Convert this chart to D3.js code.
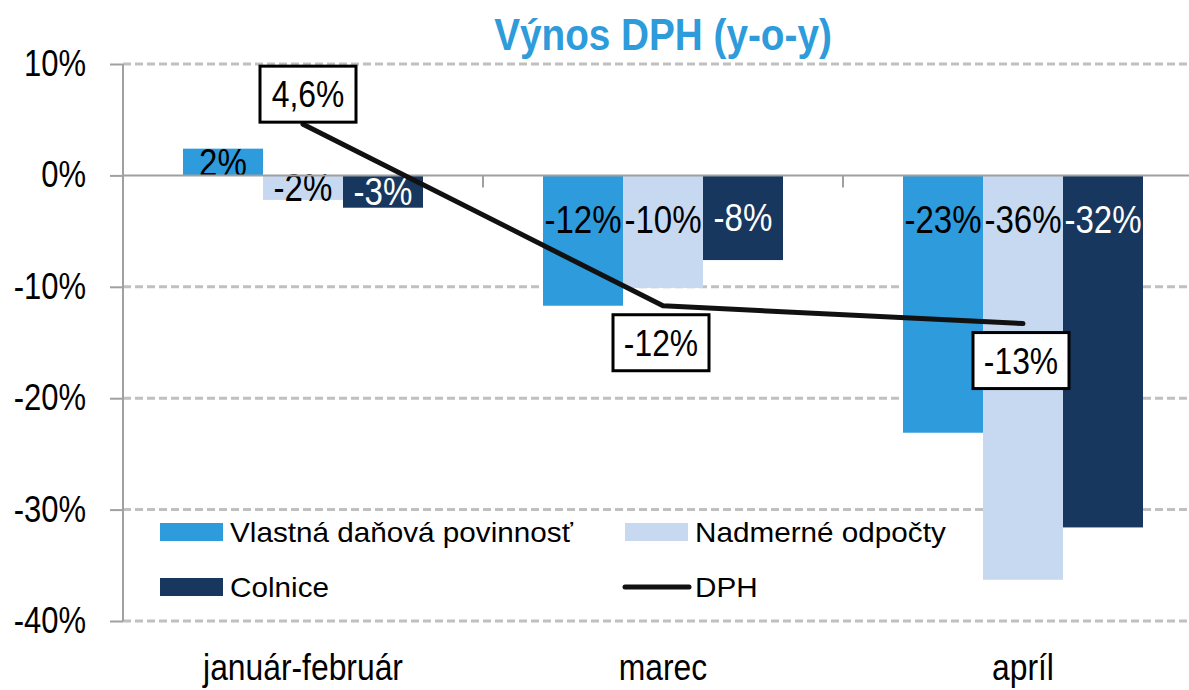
<!DOCTYPE html>
<meta charset="utf-8">
<style>
  html, body { margin: 0; padding: 0; background: #fff; overflow: hidden; }
  text {
    font-family: "Liberation Sans Narrow", "Arial Narrow", "Liberation Sans", sans-serif;
    fill: #000;
  }
  .grid line { stroke: #c0c0c0; stroke-width: 3px; stroke-dasharray: 8,4; }
  .axis path, .axis line { fill: none; stroke: #a0a0a0; stroke-width: 2px; }
  .axis text { font-size: 36px; fill: #000; }
  .title { font-size: 45px; font-weight: bold; fill: #2e9bdb; }
  .catlabel { font-size: 37px; }
  .barlabel { font-size: 38px; }
  .dphlabel { font-size: 37px; }
  .legend text { font-size: 28px; }
  .dph { fill: none; stroke: #111; stroke-width: 5px; stroke-linejoin: round; stroke-linecap: round; }
</style>
<body>
<svg></svg>
<script src="https://d3js.org/d3.v7.min.js"></script>
<script>

var categories = ["január-február", "marec", "apríl"];
var seriesNames = ["Vlastná daňová povinnosť", "Nadmerné odpočty", "Colnice"];
var vlastna = [2.4, -11.7, -23.1];
var nadmerne = [-2.2, -10.1, -36.3];
var colnice = [-2.9, -7.6, -31.6];
var dph = [4.6, -11.7, -13.3];
var dphLabels = ["4,6%", "-12%", "-13%"];
var yTicks = [10, 0, -10, -20, -30, -40];

var colors = ["#2e9bdc", "#c6d9f0", "#17375e"];
var labelColors = ["#000", "#000", "#fff"];

var width = 1189, height = 690;
var margin = {top: 64, left: 123, bottom: 69};

// no narrow font installed, so squeeze the glyphs to look like Arial Narrow
function condense(sel, k) {
  sel.each(function() {
    var w = this.getComputedTextLength();
    d3.select(this).attr("textLength", w * k).attr("lengthAdjust", "spacingAndGlyphs");
  });
}

var svg = d3.select("svg").attr("width", width).attr("height", height);

var x = d3.scaleBand()
    .domain(categories)
    .range([margin.left, margin.left + 360 * categories.length])
    .paddingInner(1 / 3)
    .paddingOuter(1 / 6);

var xSub = d3.scaleBand()
    .domain(seriesNames)
    .range([0, x.bandwidth()]);

var y = d3.scaleLinear()
    .domain([-40, 10])
    .range([height - margin.bottom, margin.top]);

var step = x.step();
var plotRight = margin.left + step * categories.length;

// gridlines
svg.append("g")
    .attr("class", "grid")
    .selectAll("line")
    .data(yTicks.filter(function(d) { return d !== 0; }))
    .enter().append("line")
      .attr("x1", margin.left)
      .attr("x2", plotRight)
      .attr("y1", function(d) { return y(d); })
      .attr("y2", function(d) { return y(d); });

// title
svg.append("text")
    .attr("class", "title")
    .attr("x", (margin.left + plotRight) / 2)
    .attr("y", 50)
    .attr("text-anchor", "middle")
    .text("Výnos DPH (y-o-y)")
    .call(condense, 0.86);

// bars
var series = [vlastna, nadmerne, colnice];
var barData = [];
categories.forEach(function(c, i) {
  series.forEach(function(s, j) {
    barData.push({cat: c, name: seriesNames[j], idx: j, value: s[i]});
  });
});

var bars = svg.append("g").attr("class", "bars");

bars.selectAll("rect")
    .data(barData)
    .enter().append("rect")
      .attr("x", function(d) { return x(d.cat) + xSub(d.name); })
      .attr("y", function(d) { return y(Math.max(0, d.value)); })
      .attr("width", xSub.bandwidth())
      .attr("height", function(d) { return Math.abs(y(d.value) - y(0)); })
      .style("fill", function(d) { return colors[d.idx]; });

// y axis
svg.append("g")
    .attr("class", "axis axis--y")
    .attr("transform", "translate(" + margin.left + ",0)")
    .call(d3.axisLeft(y).tickValues(yTicks).tickSize(13).tickPadding(24)
      .tickFormat(function(d) { return d + "%"; }))
    .call(function(g) { g.select(".domain").attr("d", "M0," + y(10) + "V" + y(-40)); })
    .call(function(g) { g.selectAll("text").attr("font-size", null).attr("font-family", null).call(condense, 0.86); });

// zero axis with category dividers
var xAxis = svg.append("g").attr("class", "axis axis--x");
xAxis.append("line")
    .attr("x1", margin.left).attr("x2", plotRight)
    .attr("y1", y(0)).attr("y2", y(0));
xAxis.selectAll(".divider")
    .data(categories.slice(1))
    .enter().append("line")
      .attr("class", "divider")
      .attr("x1", function(d) { return x(d) - step * x.paddingInner() / 2; })
      .attr("x2", function(d) { return x(d) - step * x.paddingInner() / 2; })
      .attr("y1", y(0))
      .attr("y2", y(0) + 12);

// category labels
svg.append("g")
    .selectAll("text")
    .data(categories)
    .enter().append("text")
      .attr("class", "catlabel")
      .attr("x", function(d) { return x(d) + x.bandwidth() / 2; })
      .attr("y", 680)
      .attr("text-anchor", "middle")
      .text(function(d) { return d; })
      .call(condense, 0.86);

// bar labels
bars.selectAll("text")
    .data(barData)
    .enter().append("text")
      .attr("class", "barlabel")
      .attr("x", function(d) { return x(d.cat) + xSub(d.name) + xSub.bandwidth() / 2; })
      .attr("y", function(d) {
        var h = Math.abs(y(d.value) - y(0));
        var off = Math.min(h / 2, 44);
        return d.value >= 0 ? y(0) - off : y(0) + off;
      })
      .attr("dy", "0.36em")
      .attr("text-anchor", "middle")
      .style("fill", function(d) { return labelColors[d.idx]; })
      .text(function(d) { return Math.round(d.value) + "%"; })
      .call(condense, 0.87);

// DPH line
var line = d3.line()
    .x(function(d, i) { return x(categories[i]) + x.bandwidth() / 2; })
    .y(function(d) { return y(d); });

svg.append("path")
    .datum(dph)
    .attr("class", "dph")
    .attr("d", line);

// DPH labels
var dl = svg.append("g").attr("class", "dphlabels")
    .selectAll("g")
    .data(dph)
    .enter().append("g")
      .attr("transform", function(d, i) {
        var cx = x(categories[i]) + x.bandwidth() / 2;
        var above = i === 0;
        return "translate(" + (above ? cx + 5 : cx - 2) + "," + (above ? y(d) - 30 : y(d) + 37) + ")";
      });

dl.append("rect")
    .attr("x", -48).attr("y", -28)
    .attr("width", 96).attr("height", 56)
    .style("fill", "#fff")
    .style("stroke", "#000")
    .style("stroke-width", 3);

dl.append("text")
    .attr("class", "dphlabel")
    .attr("text-anchor", "middle")
    .attr("dy", "0.36em")
    .text(function(d, i) { return dphLabels[i]; })
    .call(condense, 0.86);

// legend
var legendItems = [
  {name: seriesNames[0], type: "rect", color: colors[0], x: 160, y: 532},
  {name: seriesNames[1], type: "rect", color: colors[1], x: 625, y: 532},
  {name: seriesNames[2], type: "rect", color: colors[2], x: 160, y: 587},
  {name: "DPH", type: "line", color: "#111", x: 625, y: 587}
];

var lg = svg.append("g").attr("class", "legend")
    .selectAll("g")
    .data(legendItems)
    .enter().append("g")
      .attr("transform", function(d) { return "translate(" + d.x + "," + d.y + ")"; });

lg.filter(function(d) { return d.type === "rect"; })
  .append("rect")
    .attr("x", 0).attr("y", -9)
    .attr("width", 63).attr("height", 18)
    .style("fill", function(d) { return d.color; });

lg.filter(function(d) { return d.type === "line"; })
  .append("line")
    .attr("x1", 0).attr("x2", 64)
    .attr("y1", 0).attr("y2", 0)
    .style("stroke", function(d) { return d.color; })
    .style("stroke-width", 5)
    .style("stroke-linecap", "round");

lg.append("text")
    .attr("x", 70)
    .attr("dy", "0.36em")
    .text(function(d) { return d.name; })
    .call(condense, 1.06);

</script>
</body>
